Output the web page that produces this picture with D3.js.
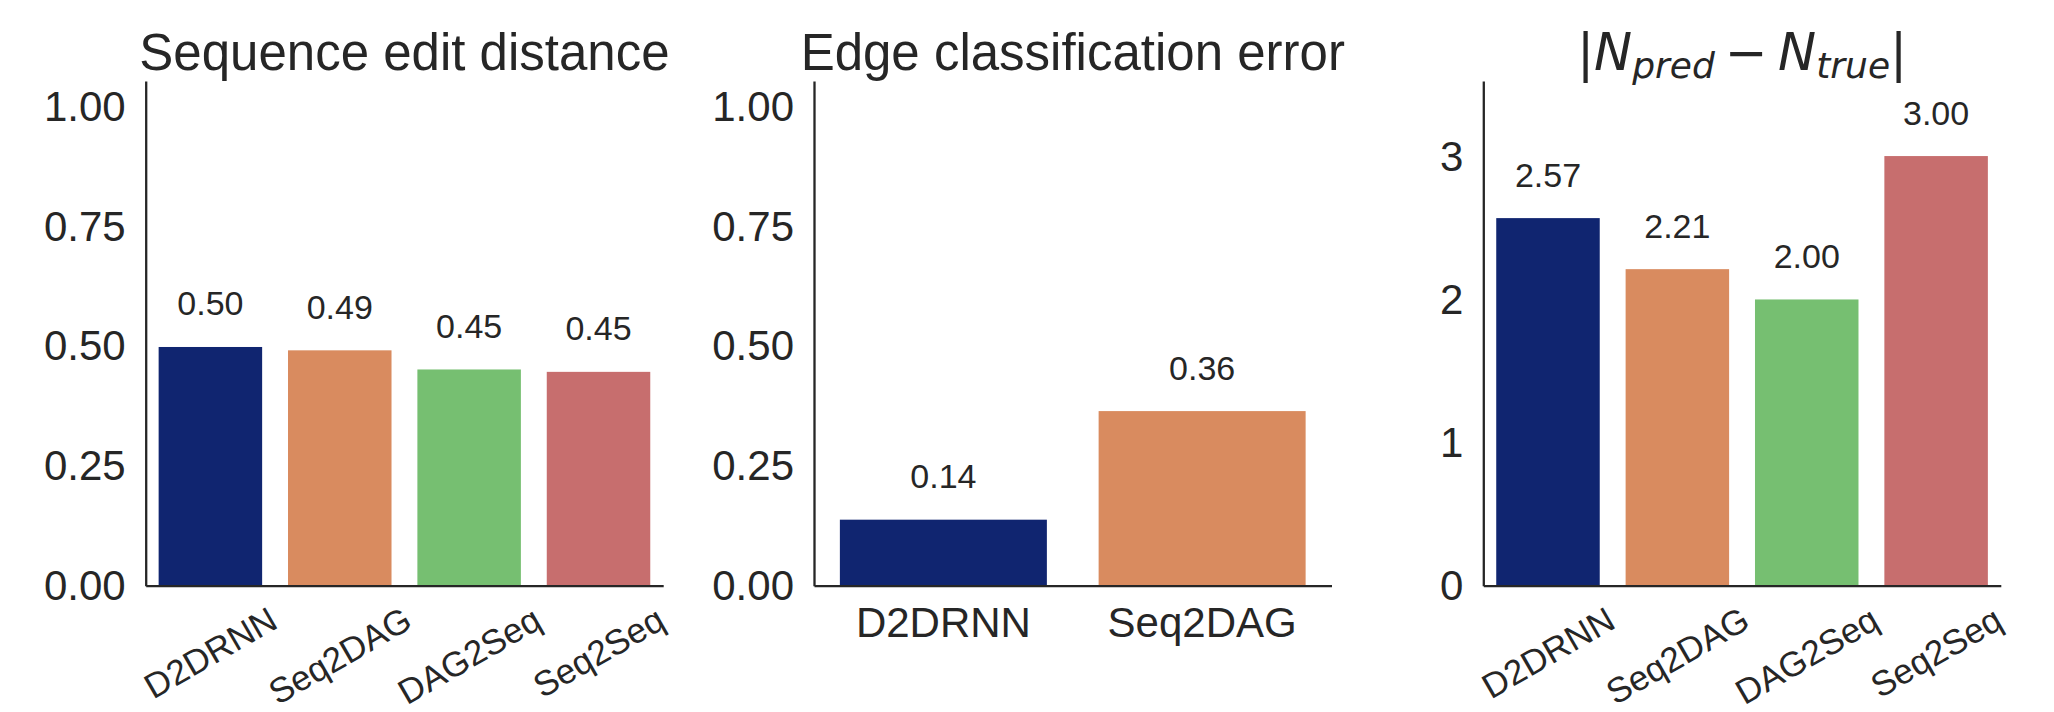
<!DOCTYPE html>
<html>
<head>
<meta charset="utf-8">
<script src="https://cdn.jsdelivr.net/npm/d3@7"></script>
<style>
  html, body { margin: 0; padding: 0; background: #ffffff; }
  svg { display: block; }
  text { font-family: "Liberation Sans", Arial, sans-serif; fill: #262626; }
</style>
</head>
<body>
<svg id="chart" width="2054" height="712"></svg>
<script>
// ---------------- data ----------------
const models4 = ["D2DRNN", "Seq2DAG", "DAG2Seq", "Seq2Seq"];
const models2 = ["D2DRNN", "Seq2DAG"];
const editDistance = [0.499, 0.492, 0.452, 0.447];
const edgeError = [0.138, 0.365];
const countError = [2.571, 2.214, 2.002, 3.005];
const ticksUnit = [0, 0.25, 0.5, 0.75, 1.0];
const ticksCount = [0, 1, 2, 3];
const palette = ["#102570", "#d98b5f", "#76bf71", "#c76e6e"];

// ---------------- layout ----------------
const svg = d3.select("#chart");
const W = 517.5;
const yBottom = 585.7, yTop = 81;
const ink = "#262626";

const panels = [
  { x0: 145.7, cats: models4, vals: editDistance, ymax: 1.055, ticks: ticksUnit, fmt: d3.format(".2f"), rotate: true, title: "Sequence edit distance" },
  { x0: 814.0, cats: models2, vals: edgeError, ymax: 1.055, ticks: ticksUnit, fmt: d3.format(".2f"), rotate: false, title: "Edge classification error" },
  { x0: 1483.3, cats: models4, vals: countError, ymax: 3.53, ticks: ticksCount, fmt: d3.format("d"), rotate: true, title: null }
];

panels.forEach((p, pi) => {
  const g = svg.append("g").attr("transform", `translate(${p.x0},0)`);
  const x = d3.scaleBand().domain(p.cats).range([0, W]).paddingInner(0.2).paddingOuter(0.1);
  const y = d3.scaleLinear().domain([0, p.ymax]).range([yBottom, yTop]);

  // bars
  g.selectAll("rect.bar").data(p.vals).join("rect")
    .attr("class", "bar")
    .attr("x", (d, i) => x(p.cats[i]))
    .attr("width", x.bandwidth())
    .attr("y", d => y(d))
    .attr("height", d => y(0) - y(d))
    .attr("fill", (d, i) => palette[i]);

  // value labels
  g.selectAll("text.val").data(p.vals).join("text")
    .attr("class", "val")
    .attr("x", (d, i) => x(p.cats[i]) + x.bandwidth() / 2)
    .attr("y", d => y(d) - 31.5)
    .attr("text-anchor", "middle")
    .style("font-size", "34px")
    .text(d => d3.format(".2f")(d));

  // y axis
  const ya = g.append("g").call(d3.axisLeft(y).tickValues(p.ticks).tickFormat(p.fmt).tickSize(0).tickPadding(20));
  ya.select(".domain").attr("stroke", ink).attr("stroke-width", 2.3);
  ya.selectAll("text").style("font-size", "42px").attr("fill", ink)
    .attr("font-family", null);

  // x axis
  const xa = g.append("g").attr("transform", `translate(0,${yBottom})`)
    .call(d3.axisBottom(x).tickSize(0).tickPadding(0));
  xa.select(".domain").attr("stroke", ink).attr("stroke-width", 2.3);
  xa.selectAll("text").attr("font-family", null).attr("fill", ink);
  if (p.rotate) {
    const fs = 35;
    xa.selectAll("text").style("font-size", fs + "px")
      .attr("y", null).attr("dy", "0.35em")
      .attr("text-anchor", "middle")
      .each(function () {
        const w = this.getComputedTextLength();
        const th = 30 * Math.PI / 180;
        const h = fs * 1.15;
        const cy = 13 + (w * Math.sin(th) + h * Math.cos(th)) / 2;
        d3.select(this).attr("transform", `translate(0,${cy}) rotate(-30)`);
      });
  } else {
    xa.selectAll("text").style("font-size", "42px")
      .attr("y", 51).attr("dy", null);
  }

  // title
  if (p.title) {
    g.append("text").attr("x", W / 2).attr("y", 70)
      .attr("text-anchor", "middle").style("font-size", "51px")
      .text(p.title);
  } else {
    const t = g.append("text").attr("x", W / 2).attr("y", 70)
      .attr("text-anchor", "middle")
      .style("font-family", "'DejaVu Sans', sans-serif").style("font-size", "51px");
    t.append("tspan").text("|");
    t.append("tspan").style("font-style", "italic").text("N");
    t.append("tspan").style("font-style", "italic").style("font-size", "36px").attr("dy", 8).text("pred");
    t.append("tspan").attr("dy", -8).text("\u2009\u2212\u2009");
    t.append("tspan").style("font-style", "italic").text("N");
    t.append("tspan").style("font-style", "italic").style("font-size", "36px").attr("dy", 8).text("true");
    t.append("tspan").attr("dy", -8).text("|");
  }
});
</script>
</body>
</html>
